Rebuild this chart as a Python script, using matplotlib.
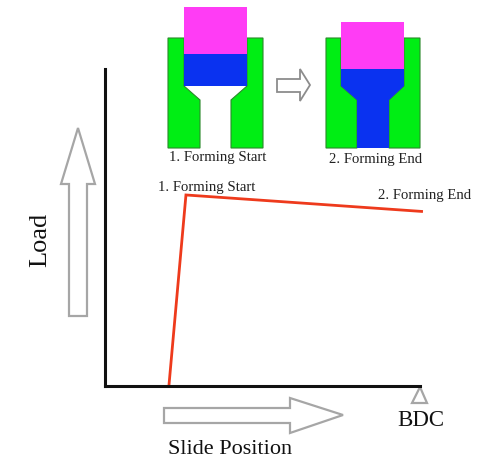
"""
    load vs slide position diagram for forward extrusion
"""
import matplotlib.pyplot as plt
from matplotlib.patches import Polygon

W, H = 500, 474

# curve: percent of the axis lengths
slide_pos = [20.3, 25.7, 100.5]
load = [0, 60.2, 55.0]
curve_labels = ["1. Forming Start", "2. Forming End"]

plt.rcParams["font.family"] = ["Liberation Serif", "DejaVu Serif"]

fig = plt.figure(figsize=(W / 100, H / 100), dpi=100)

# sketch layer in image pixels, y down
sk = fig.add_axes([0, 0, 1, 1])
sk.set_xlim(0, W)
sk.set_ylim(H, 0)
sk.axis("off")

# chart axes
left, right, top, bottom = 105, 420, 69, 385.5
ax = fig.add_axes(
    [left / W, 1 - bottom / H, (right - left) / W, (bottom - top) / H], zorder=2
)
ax.patch.set_alpha(0)
ax.set_xlim(0, 100)
ax.set_ylim(0, 100)
ax.set_xticks([])
ax.set_yticks([])
ax.spines[["top", "right"]].set_visible(False)
ax.spines[["left", "bottom"]].set_linewidth(2.2)
ax.spines[["left", "bottom"]].set_color("#111111")
ax.plot(slide_pos, load, color="#ee3a1c", lw=2.0, solid_joinstyle="miter", clip_on=False)


def poly(points, face, edge="none", lw=0, z=1):
    sk.add_patch(Polygon(points, closed=True, fc=face, ec=edge, lw=lw, zorder=z))


GREEN = "#00ee14"
BLUE = "#0a32f0"
PINK = "#ff3cf5"
ARROW = "#a6a6a6"

# start of forming
poly([(168, 38), (184, 38), (184, 86), (200, 100), (200, 148), (168, 148)], GREEN, "#2a8a2a", 0.8)
poly([(247, 38), (263, 38), (263, 148), (231, 148), (231, 100), (247, 86)], GREEN, "#2a8a2a", 0.8)
poly([(184, 7), (247, 7), (247, 54), (184, 54)], PINK)
poly([(184, 54), (247, 54), (247, 86), (184, 86)], BLUE)

# end of forming
poly([(326, 38), (341, 38), (341, 86), (357, 100), (357, 148), (326, 148)], GREEN, "#2a8a2a", 0.8)
poly([(404, 38), (420, 38), (420, 148), (389, 148), (389, 100), (404, 86)], GREEN, "#2a8a2a", 0.8)
poly([(341, 22), (404, 22), (404, 69), (341, 69)], PINK)
poly([(341, 69), (404, 69), (404, 86), (389, 100), (389, 148), (357, 148), (357, 100), (341, 86)], BLUE)

# hollow arrows
poly([(277, 79), (300, 79), (300, 69), (310, 85), (300, 101), (300, 92), (277, 92)], "white", "#8c8c8c", 1.3)
poly([(78, 128), (95, 184), (87, 184), (87, 316), (69, 316), (69, 184), (61, 184)], "white", ARROW, 1.6)
poly([(164, 408), (290, 408), (290, 398), (343, 415), (290, 433), (290, 423), (164, 423)], "white", ARROW, 1.6)

# BDC marker
poly([(420, 387), (427, 403), (412, 403)], "white", ARROW, 1.6)

# texts
small = 10.6
sk.text(218, 158, curve_labels[0], fontsize=small, ha="center", va="center", color="#222222")
sk.text(376, 160, curve_labels[1], fontsize=small, ha="center", va="center", color="#222222")
sk.text(207, 187, curve_labels[0], fontsize=small, ha="center", va="center", color="#222222")
sk.text(425, 195, curve_labels[1], fontsize=small, ha="center", va="center", color="#222222")
sk.text(40, 240, "Load", fontsize=19, rotation=90, ha="center", va="center", color="#111111")
sk.text(230, 449, "Slide Position", fontsize=16, ha="center", va="center", color="#111111")
sk.text(421, 420, "BDC", fontsize=16.5, ha="center", va="center", color="#111111")

fig.savefig("out.png", dpi=100)
